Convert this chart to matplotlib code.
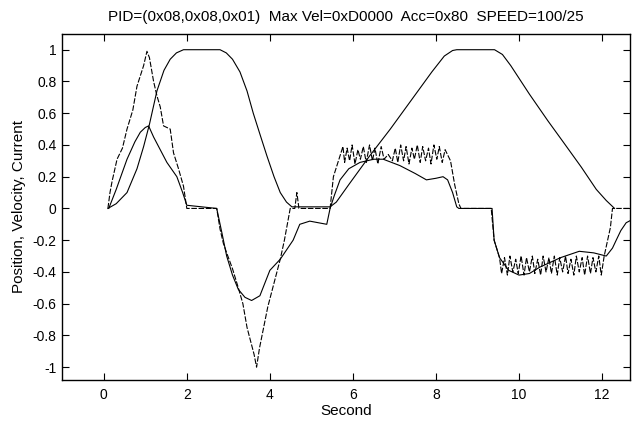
import numpy as np
import matplotlib
matplotlib.use("Agg")
import matplotlib.pyplot as plt

plt.rcParams['font.family'] = ['Liberation Sans', 'DejaVu Sans']

TITLE = "PID=(0x08,0x08,0x01)  Max Vel=0xD0000  Acc=0x80  SPEED=100/25"

# position (solid, smooth)
pos_t = [0.10, 0.30, 0.56, 0.80, 0.96, 1.10, 1.28, 1.45, 1.60, 1.75, 1.92,
         2.80, 2.95, 3.10, 3.28, 3.45, 3.60, 3.77, 3.93, 4.10, 4.25, 4.40, 4.53,
         5.45, 5.60, 5.90, 6.40, 6.90, 7.40, 7.90, 8.20, 8.40, 8.50,
         9.41, 9.60, 9.80, 10.25, 10.70, 11.06, 11.50, 11.86, 12.10, 12.30]
pos_v = [0.00, 0.03, 0.10, 0.25, 0.39, 0.53, 0.74, 0.87, 0.94, 0.98, 1.00,
         1.00, 0.98, 0.94, 0.86, 0.74, 0.60, 0.46, 0.33, 0.20, 0.10, 0.04, 0.01,
         0.01, 0.04, 0.15, 0.33, 0.50, 0.68, 0.86, 0.96, 0.995, 1.00,
         1.00, 0.97, 0.90, 0.72, 0.55, 0.42, 0.26, 0.12, 0.05, 0.00]

# velocity (solid, smooth)
vel_t = [0.12, 0.30, 0.56, 0.75, 0.88, 1.00, 1.08, 1.20, 1.36, 1.52, 1.76, 1.90, 2.00,
         2.72, 2.85, 2.96, 3.10, 3.24, 3.40, 3.56, 3.76, 4.00, 4.25, 4.56, 4.72, 4.96,
         5.37, 5.45, 5.55, 5.69, 5.90, 6.17, 6.50, 6.73, 7.13, 7.50, 7.77, 8.00, 8.17,
         8.28, 8.40, 8.50, 8.55,
         9.35, 9.40, 9.53, 9.75, 10.00, 10.25, 10.50, 11.00, 11.45, 11.80, 12.10,
         12.25, 12.34, 12.45, 12.58, 12.80]
vel_v = [0.00, 0.12, 0.31, 0.42, 0.48, 0.51, 0.52, 0.45, 0.37, 0.29, 0.20, 0.10, 0.02,
         0.00, -0.16, -0.30, -0.42, -0.51, -0.56, -0.58, -0.55, -0.39, -0.32, -0.20, -0.10, -0.08,
         -0.10, 0.00, 0.08, 0.18, 0.25, 0.29, 0.31, 0.31, 0.27, 0.22, 0.18, 0.19, 0.20,
         0.18, 0.10, 0.01, 0.00,
         0.00, -0.20, -0.31, -0.39, -0.42, -0.41, -0.37, -0.31, -0.27, -0.28, -0.30,
         -0.25, -0.20, -0.14, -0.09, -0.06]

# current (dashed, noisy)
cur_t = [0.10, 0.15, 0.20, 0.32, 0.45, 0.56, 0.70, 0.80, 0.90, 0.96, 1.04, 1.10,
         1.20, 1.28, 1.36, 1.44, 1.60, 1.68, 1.80, 1.92, 2.00,
         2.72, 2.80, 2.88, 2.96, 3.10, 3.24, 3.35, 3.45, 3.55, 3.62, 3.68,
         3.75, 3.85, 3.95, 4.05, 4.15, 4.25, 4.35, 4.49, 4.60, 4.65, 4.70,
         5.45, 5.53, 5.65, 5.76,
         5.80, 5.86, 5.92, 5.98, 6.05, 6.12, 6.18, 6.25, 6.32, 6.40, 6.47, 6.53,
         6.60, 6.68, 6.75, 6.85, 6.95, 7.02, 7.08, 7.15, 7.22, 7.28, 7.35, 7.42,
         7.48, 7.55, 7.62, 7.68, 7.75, 7.82, 7.88, 7.95, 8.02, 8.08, 8.15, 8.22,
         8.35, 8.45, 8.55, 8.60,
         9.33, 9.40, 9.53,
         9.58, 9.65, 9.72, 9.78, 9.85, 9.92, 9.98, 10.05, 10.12, 10.18, 10.25, 10.32,
         10.38, 10.45, 10.52, 10.58, 10.65, 10.72, 10.78, 10.85, 10.92, 10.98, 11.05,
         11.12, 11.18, 11.25, 11.32, 11.38, 11.45, 11.52, 11.58, 11.65, 11.72, 11.78,
         11.85, 11.92, 11.98, 12.05,
         12.10, 12.20, 12.25, 12.80]
cur_v = [0.00, 0.10, 0.17, 0.31, 0.38, 0.50, 0.62, 0.77, 0.85, 0.90, 0.99, 0.95,
         0.80, 0.71, 0.64, 0.52, 0.50, 0.35, 0.25, 0.14, 0.00,
         0.00, -0.13, -0.22, -0.28, -0.38, -0.50, -0.60, -0.75, -0.85, -0.92, -1.00,
         -0.88, -0.75, -0.62, -0.52, -0.42, -0.32, -0.20, 0.00, 0.00, 0.10, 0.00,
         0.00, 0.20, 0.30, 0.39,
         0.29, 0.38, 0.30, 0.40, 0.28, 0.37, 0.31, 0.39, 0.29, 0.40, 0.30, 0.38,
         0.28, 0.39, 0.31, 0.34, 0.30, 0.38, 0.29, 0.40, 0.30, 0.39, 0.28, 0.38,
         0.31, 0.40, 0.29, 0.39, 0.30, 0.38, 0.28, 0.40, 0.31, 0.39, 0.29, 0.37,
         0.30, 0.15, 0.03, 0.00,
         0.00, -0.20, -0.31,
         -0.41, -0.31, -0.42, -0.30, -0.40, -0.32, -0.41, -0.30, -0.42, -0.31, -0.40,
         -0.30, -0.41, -0.32, -0.42, -0.30, -0.40, -0.31, -0.41, -0.30, -0.42, -0.31,
         -0.40, -0.30, -0.41, -0.32, -0.42, -0.30, -0.40, -0.31, -0.42, -0.30, -0.41,
         -0.31, -0.40, -0.30, -0.42, -0.30,
         -0.24, -0.12, 0.00, 0.00]

x_ticks = [0, 2, 4, 6, 8, 10, 12]
y_ticks = [1, 0.8, 0.6, 0.4, 0.2, 0, -0.2, -0.4, -0.6, -0.8, -1]

fig = plt.figure(figsize=(6.35, 4.23), dpi=100)
ax = fig.add_axes([0.098, 0.102, 0.894, 0.818])

ax.plot(pos_t, pos_v, color='black', lw=0.8)
ax.plot(vel_t, vel_v, color='black', lw=0.8)
ax.plot(cur_t, cur_v, color='black', lw=0.8, dashes=(5, 1.5))

ax.set_xlim(-1.0, 12.67)
ax.set_ylim(-1.08, 1.1)
ax.set_xticks(x_ticks)
ax.set_yticks(y_ticks)
ax.set_yticklabels([f"{v:g}" for v in y_ticks])
ax.tick_params(direction='in', top=True, right=True, length=5, labelsize=10)
ax.tick_params(axis='x', pad=6)
ax.tick_params(axis='y', pad=4)
for s in ax.spines.values():
    s.set_linewidth(1.0)

ax.set_title(TITLE, fontsize=11, pad=9)
ax.set_xlabel("Second", fontsize=11, labelpad=1)
ax.set_ylabel("Position, Velocity, Current", fontsize=11, labelpad=5)

fig.savefig("out.png", dpi=100)
